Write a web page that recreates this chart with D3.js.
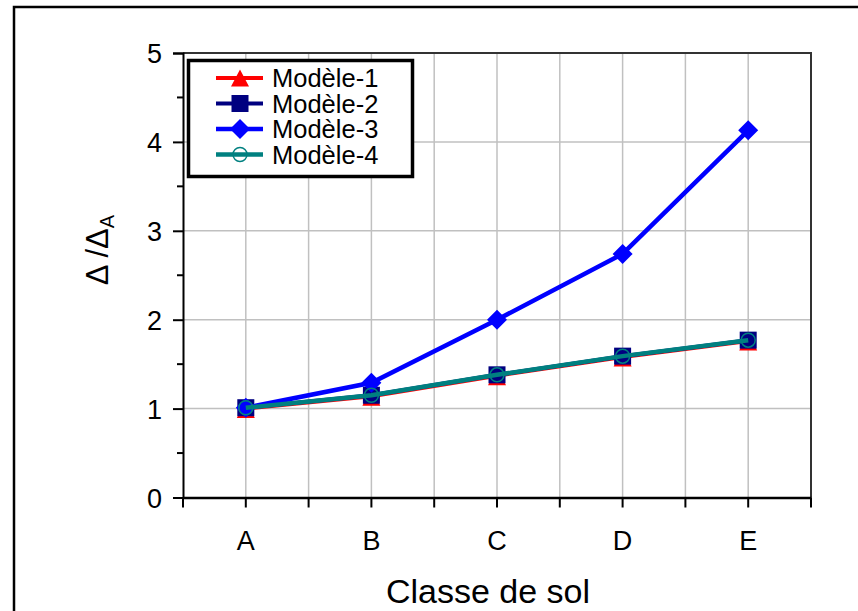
<!DOCTYPE html>
<html><head><meta charset="utf-8">
<script src="https://cdn.jsdelivr.net/npm/d3@7"></script>
<style>body{margin:0;background:#fff;} svg{display:block;font-family:"Liberation Sans",Arial,sans-serif;}</style>
</head><body><div id="chart"></div>
<script>
const categories = ["A","B","C","D","E"];
const modele1 = [1.00, 1.14, 1.37, 1.58, 1.76];
const modele2 = [1.01, 1.15, 1.38, 1.59, 1.77];
const modele3 = [1.01, 1.29, 2.00, 2.74, 4.13];
const modele4 = [1.01, 1.15, 1.38, 1.59, 1.77];
const seriesNames = ["Modèle-1","Modèle-2","Modèle-3","Modèle-4"];
const yTicks = [0,1,2,3,4,5];

const W = 858, H = 611;
const FONT = "Liberation Sans, Arial, sans-serif";
const svg = d3.select("#chart").append("svg").attr("width", W).attr("height", H);
svg.append("rect").attr("width", W).attr("height", H).attr("fill", "#fff");
// outer frame
svg.append("path").attr("d", `M14,${H+5} L14,7 L${W+5},7`).attr("fill","none").attr("stroke","#000").attr("stroke-width",2.5);

const L = 183, R = 811, T = 53, B = 497.5;
const x = d3.scaleBand().domain(categories).range([L, R]).paddingInner(0).paddingOuter(0);
const y = d3.scaleLinear().domain([0,5]).range([B, T]);
const cx = c => x(c) + x.bandwidth()/2;

// gridlines
const vgrid = [];
categories.forEach((c,i) => { vgrid.push(cx(c)); if (i>0) vgrid.push(x(c)); });
svg.append("g").selectAll("line").data(vgrid).join("line")
  .attr("x1", d=>d).attr("x2", d=>d).attr("y1", T).attr("y2", B)
  .attr("stroke", "#c0c0c0").attr("stroke-width", 1.5);
svg.append("g").selectAll("line").data(yTicks.filter(t=>t>0 && t<5)).join("line")
  .attr("x1", L).attr("x2", R).attr("y1", d=>y(d)).attr("y2", d=>y(d))
  .attr("stroke", "#c0c0c0").attr("stroke-width", 1.5);

// plot frame top & right
svg.append("path").attr("d", `M${L},${T} L${R},${T} L${R},${B}`).attr("fill","none").attr("stroke","#333").attr("stroke-width",2);

// y axis
const yAxis = d3.axisLeft(y).tickValues(yTicks).tickSize(10).tickPadding(11).tickFormat(d3.format("d"));
const gy = svg.append("g").attr("transform", `translate(${L},0)`).call(yAxis);
gy.attr("font-size", 27).attr("font-family", FONT);
gy.select(".domain").attr("stroke","#000").attr("stroke-width",2);
gy.selectAll(".tick line").attr("stroke","#000").attr("stroke-width",2);
gy.selectAll("text").attr("fill","#000").attr("dy","0.36em");
const minorY = d3.range(0.5, 5, 1);
svg.append("g").selectAll("line").data(minorY).join("line")
  .attr("x1", L-6).attr("x2", L).attr("y1", d=>y(d)).attr("y2", d=>y(d))
  .attr("stroke","#000").attr("stroke-width",2);

// x axis
const xAxis = d3.axisBottom(x).tickSize(0).tickPadding(30);
const gx = svg.append("g").attr("transform", `translate(0,${B})`).call(xAxis);
gx.attr("font-size", 27).attr("font-family", FONT);
gx.select(".domain").attr("stroke","#000").attr("stroke-width",2.5);
gx.selectAll("text").attr("fill","#000").attr("dy", null).attr("y", 52);
const xt = [x(categories[0])].concat(vgrid).concat([R]);
svg.append("g").selectAll("line").data(xt).join("line")
  .attr("x1", d=>d).attr("x2", d=>d).attr("y1", B).attr("y2", B+10)
  .attr("stroke","#000").attr("stroke-width",2);

// axis titles
svg.append("text").attr("x", 488).attr("y", 603).attr("text-anchor","middle")
  .attr("font-size", 34).attr("fill","#000").text("Classe de sol");
const yt = svg.append("text").attr("transform", "translate(108,250) rotate(-90)").attr("text-anchor","middle")
  .attr("font-size", 31).attr("fill","#000");
yt.append("tspan").text("Δ /Δ");
yt.append("tspan").attr("font-size", 20).attr("dy", 6).text("A");

// series
const data = [modele1, modele2, modele3, modele4];
const colors = ["#ff0000", "#000080", "#0000ff", "#008080"];
const widths = [4, 4, 4.5, 4.5];
const line = d3.line().x((d,i)=>cx(categories[i])).y(d=>y(d));

function marker(g, k, px, py, legend) {
  if (k === 0) {
    const b = legend ? 8.5 : 9.5;
    g.append("path").attr("d", `M${px},${py-8.5} L${px+9},${py+b} L${px-9},${py+b} Z`).attr("fill", colors[0]);
  } else if (k === 1) {
    g.append("rect").attr("x", px-8.5).attr("y", py-8.5).attr("width", 17).attr("height", 17).attr("fill", colors[1]);
  } else if (k === 2) {
    g.append("path").attr("d", `M${px},${py-10} L${px+10},${py} L${px},${py+10} L${px-10},${py} Z`).attr("fill", colors[2]);
  } else {
    g.append("circle").attr("cx", px).attr("cy", py).attr("r", 7).attr("fill","none").attr("stroke", colors[3]).attr("stroke-width", 1.5);
  }
}

const gs = svg.append("g");
data.forEach((vals, k) => {
  const g = gs.append("g");
  g.append("path").datum(vals).attr("d", line).attr("fill","none").attr("stroke", colors[k]).attr("stroke-width", widths[k]);
  vals.forEach((v,i) => marker(g, k, cx(categories[i]), y(v), false));
});

// legend
const lg = svg.append("g");
lg.append("rect").attr("x", 188.5).attr("y", 60.5).attr("width", 224).attr("height", 116)
  .attr("fill","#fff").attr("stroke","#000").attr("stroke-width",3.5);
seriesNames.forEach((name, k) => {
  const ry = 78 + k*25.5;
  lg.append("line").attr("x1", 216).attr("x2", 263).attr("y1", ry).attr("y2", ry).attr("stroke", colors[k]).attr("stroke-width", widths[k]);
  marker(lg, k, 240, ry, true);
  lg.append("text").attr("x", 272).attr("y", ry + 9).attr("font-size", 25.5).attr("font-family", FONT).attr("fill","#000").text(name);
});
</script></body></html>
